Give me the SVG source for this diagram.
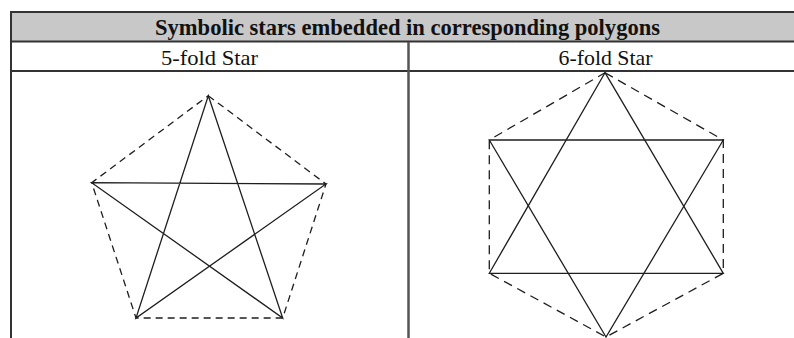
<svg xmlns="http://www.w3.org/2000/svg" width="794" height="338" viewBox="0 0 794 338">
<style>
.title{font-family:"Liberation Serif","Times New Roman",serif;font-weight:bold;font-size:23px;fill:#111}
.sub{font-family:"Liberation Serif","Times New Roman",serif;font-size:21px;fill:#111}
.star{fill:none;stroke:#1e1e1e;stroke-width:1.3;stroke-linejoin:miter}
.poly5{fill:none;stroke:#1e1e1e;stroke-width:1.3;stroke-dasharray:7 5}
.poly6{fill:none;stroke:#1e1e1e;stroke-width:1.3;stroke-dasharray:9 6}
.border{stroke:#333;stroke-width:2;fill:none}
</style>
<rect width="794" height="338" fill="#fff"/>
<g id="table">
<rect x="11" y="12" width="783" height="29.5" fill="#c8c8c8"/>
<line class="border" x1="11" y1="12" x2="794" y2="12"/>
<line class="border" x1="11" y1="41.5" x2="794" y2="41.5"/>
<line class="border" x1="11" y1="71" x2="794" y2="71"/>
<line class="border" x1="11" y1="11" x2="11" y2="338"/>
<line x1="408.5" y1="42" x2="408.5" y2="338" stroke="#555" stroke-width="2.5"/>
</g>
<g id="texts">
<text class="title" x="407.5" y="35" text-anchor="middle" textLength="505" lengthAdjust="spacingAndGlyphs">Symbolic stars embedded in corresponding polygons</text>
<text class="sub" x="209.5" y="65" text-anchor="middle" textLength="97" lengthAdjust="spacingAndGlyphs">5-fold Star</text>
<text class="sub" x="605.5" y="65" text-anchor="middle" textLength="94" lengthAdjust="spacingAndGlyphs">6-fold Star</text>
</g>
<g id="pentagram">
<polygon class="poly5" points="208.3,95.7 326,184 282.7,318 136,318 91.7,182.7"/>
<polygon class="star" points="208.3,95.7 282.7,318 91.7,182.7 326,184 136,318"/>
</g>
<g id="hexagram">
<polygon class="poly6" points="605,72.7 723.3,140 723.3,273.3 606,337 489.3,273.3 489.3,140"/>
<polygon class="star" points="605,72.7 723.3,273.3 489.3,273.3"/>
<polygon class="star" points="606,337 489.3,140 723.3,140"/>
</g>
</svg>
